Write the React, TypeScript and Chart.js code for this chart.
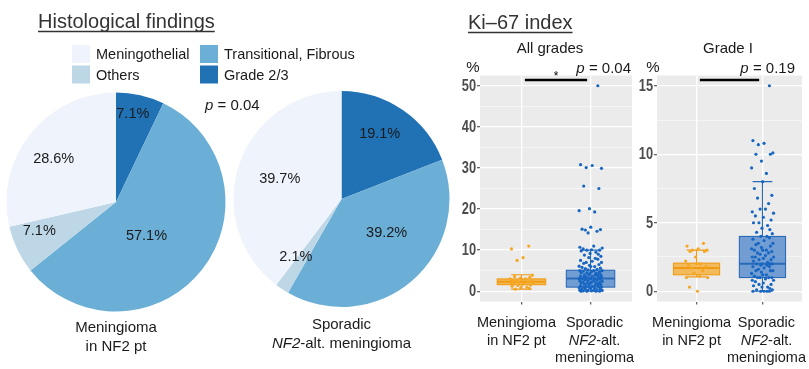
import React, { useEffect, useRef } from 'react';
import { Chart, registerables } from 'chart.js';
Chart.register(...registerables);

// ---------------- data ----------------
// pie slices, clockwise from 12 o'clock
const HISTO_CATEGORIES = ['Grade 2/3', 'Transitional, Fibrous', 'Others', 'Meningothelial'];
const HISTO_NF2 = [7.1, 57.1, 7.1, 28.6];
const HISTO_SPORADIC = [19.1, 39.2, 2.1, 39.7];
const HISTO_COLORS = ['#2171B5', '#6BAED6', '#BDD7E7', '#EEF3FC'];
const LEGEND_ORDER = ['Meningothelial', 'Transitional, Fibrous', 'Others', 'Grade 2/3'];
const HISTO_TITLE = 'Histological findings';
const HISTO_P = '_p_ = 0.04';
const PIE_CAPTIONS = [['Meningioma', 'in NF2 pt'], ['Sporadic', '_NF2_-alt. meningioma']];

const KI_TITLE = 'Ki\u201367 index';
const GROUP_LABELS = [['Meningioma', 'in NF2 pt'], ['Sporadic', '_NF2_-alt.', 'meningioma']];
const GROUP_X = [1, 2];

// All grades
const ALL_NF2 = [11, 10.3, 8.2, 7.5, 3.9, 3.6, 3.4, 3.2, 3.0, 3.0, 2.8, 2.6, 2.5, 2.4, 2.3, 2.2, 2.0, 2.0, 1.9, 1.8, 1.6, 1.5, 1.4, 1.2, 1.0, 0.9, 0.7, 0.5];
const ALL_SPORADIC = [50, 30.8, 30.6, 30.1, 29.9, 25.6, 25.0, 20.1, 19.6, 19.3, 15.6, 15.1, 15.0, 14.9, 14.6, 14.2, 11.0, 10.7, 10.5, 10.3, 10.1, 10.0, 10.0, 9.8, 9.5, 9.2, 9.0, 8.8, 8.5, 8.2, 8.0, 7.8, 7.5, 7.3, 7.0, 7.0, 6.8, 6.5, 6.3, 6.1, 6.0, 6.0, 5.8, 5.6, 5.5, 5.3, 5.2, 5.0, 5.0, 5.0, 4.9, 4.8, 4.7, 4.5, 4.5, 4.4, 4.3, 4.2, 4.0, 4.0, 4.0, 3.9, 3.8, 3.7, 3.6, 3.5, 3.5, 3.4, 3.3, 3.2, 3.1, 3.0, 3.0, 3.0, 2.9, 2.8, 2.7, 2.6, 2.5, 2.5, 2.4, 2.3, 2.2, 2.1, 2.0, 2.0, 2.0, 1.9, 1.8, 1.7, 1.6, 1.5, 1.5, 1.4, 1.3, 1.2, 1.1, 1.0, 1.0, 1.0, 0.9, 0.8, 0.8, 0.7, 0.6, 0.5, 0.5, 0.4, 0.3, 0.3, 0.2, 0.2, 0.1, 0.1, 0.0, 0.0, 0.0, 0.0];
// [lower whisker, Q1, median, Q3, upper whisker]
const ALL_BOX_NF2 = [0.5, 1.6, 2.3, 3.0, 4.0];
const ALL_BOX_SPORADIC = [0, 1.0, 3.1, 5.1, 10.0];
const ALL_Y_TICKS = [0, 10, 20, 30, 40, 50];
const ALL_Y_RANGE = [-2.5, 52.5];
const ALL_SIG_Y = 51.4;
const ALL_P = '_p_ = 0.04';
const ALL_TITLE = 'All grades';
const ALL_STAR = '*';

// Grade I
const G1_NF2 = [3.5, 3.3, 3.1, 3.0, 3.0, 2.9, 2.9, 2.5, 2.2, 2.0, 2.0, 1.9, 1.8, 1.7, 1.5, 1.3, 1.1, 1.0, 1.0, 0.3, 0.0];
const G1_SPORADIC = [15, 11.0, 10.8, 10.7, 10.1, 10.0, 10.0, 9.5, 9.0, 8.6, 8.0, 7.5, 7.0, 6.8, 6.4, 6.0, 6.0, 5.8, 5.7, 5.5, 5.4, 5.2, 5.0, 5.0, 4.8, 4.6, 4.5, 4.3, 4.2, 4.0, 4.0, 3.9, 3.8, 3.7, 3.5, 3.5, 3.4, 3.3, 3.2, 3.1, 3.0, 3.0, 3.0, 2.9, 2.8, 2.8, 2.7, 2.6, 2.5, 2.5, 2.5, 2.4, 2.3, 2.3, 2.2, 2.1, 2.0, 2.0, 2.0, 2.0, 1.9, 1.9, 1.8, 1.8, 1.7, 1.6, 1.5, 1.5, 1.5, 1.4, 1.3, 1.2, 1.2, 1.1, 1.0, 1.0, 1.0, 1.0, 0.9, 0.8, 0.8, 0.7, 0.6, 0.5, 0.5, 0.4, 0.3, 0.3, 0.2, 0.1, 0.1, 0.0, 0.0, 0.0, 0.0, 0.0];
const G1_BOX_NF2 = [1.05, 1.2, 1.7, 2.05, 3.0];
const G1_BOX_SPORADIC = [0, 1.0, 2.0, 4.0, 8.0];
const G1_Y_TICKS = [0, 5, 10, 15];
const G1_Y_RANGE = [-0.75, 15.75];
const G1_SIG_Y = 15.42;
const G1_P = '_p_ = 0.19';
const G1_TITLE = 'Grade I';

// horizontal jitter pattern (fraction of jitter width)
const JITTER = [0.62, -0.85, 0.14, -0.37, 0.93, -0.58, 0.71, -0.09, -0.97, 0.35, 0.02, -0.72, 0.84, -0.44, 0.55, -0.21, 0.27, -0.91, 0.99, -0.63, 0.08, 0.77, -0.31, -0.8, 0.46, -0.04, 0.66, -0.52, 0.88, -0.15, 0.4];

// ---------------- styles ----------------
const FONT = '"Liberation Sans", Arial, Helvetica, sans-serif';
const TXT = '#1a1a1a';
const PANEL_BG = '#EBEBEB';
const GROUP_POINT = ['#F5A623', '#1766C2'];
const GROUP_FILL = ['rgba(245,166,35,0.72)', 'rgba(40,110,195,0.62)'];
const GROUP_STROKE = ['#F09A12', '#2A6BB8'];
const GROUP_LABEL_SHIFT = [-5, 4];
const BOX_W = 0.7;
const CAP_W = 0.3;
const JIT_W = 0.17;

function drawRich(ctx: CanvasRenderingContext2D, s: string, x: number, y: number, size: number, align: 'left' | 'center' | 'right', color = TXT) {
  const parts = s.split('_');
  const fonts = parts.map((_, i) => `${i % 2 ? 'italic ' : ''}${size}px ${FONT}`);
  let total = 0;
  const widths = parts.map((p, i) => { ctx.font = fonts[i]; const w = ctx.measureText(p).width; total += w; return w; });
  let cx = align === 'left' ? x : align === 'center' ? x - total / 2 : x - total;
  ctx.save();
  ctx.fillStyle = color;
  ctx.textBaseline = 'middle';
  ctx.textAlign = 'left';
  parts.forEach((p, i) => { ctx.font = fonts[i]; ctx.fillText(p, cx, y); cx += widths[i]; });
  ctx.restore();
  return total;
}

function drawTitle(ctx: CanvasRenderingContext2D, s: string, x: number, baseline: number) {
  ctx.save();
  ctx.font = `20px ${FONT}`;
  ctx.fillStyle = '#333';
  ctx.textBaseline = 'alphabetic';
  ctx.fillText(s, x, baseline);
  const w = ctx.measureText(s).width;
  ctx.strokeStyle = '#333';
  ctx.lineWidth = 1.5;
  ctx.beginPath();
  ctx.moveTo(x, baseline + 4);
  ctx.lineTo(x + w, baseline + 4);
  ctx.stroke();
  ctx.restore();
}

// ---------------- pie ----------------
function piePlugin(values: number[], fracs: number[], offs: number[], caption: string[], capX: number, capY: number, extras: boolean) {
  return {
    id: 'pieDecor',
    afterDatasetsDraw(chart: any) {
      const ctx: CanvasRenderingContext2D = chart.ctx;
      const meta = chart.getDatasetMeta(0);
      meta.data.forEach((arc: any, i: number) => {
        const p = arc.getProps(['x', 'y', 'startAngle', 'endAngle', 'outerRadius'], true);
        const a = (p.startAngle + p.endAngle) / 2 + (offs[i] * Math.PI) / 180;
        const r = p.outerRadius * fracs[i];
        drawRich(ctx, `${values[i].toFixed(1)}%`, p.x + Math.cos(a) * r, p.y + Math.sin(a) * r, 14.5, 'center');
      });
      caption.forEach((c, i) => drawRich(ctx, c, capX, capY + i * 18.5, 15, 'center'));
      if (extras) {
        drawTitle(ctx, HISTO_TITLE, 38, 27.5);
        LEGEND_ORDER.forEach((name, i) => {
          const col = i % 2, row = Math.floor(i / 2);
          const x = col ? 200 : 72, y = row ? 65.5 : 45;
          ctx.fillStyle = HISTO_COLORS[HISTO_CATEGORIES.indexOf(name)];
          ctx.fillRect(x, y, 18, 18);
          drawRich(ctx, name, x + 24, y + 10, 14.5, 'left');
        });
        drawRich(ctx, HISTO_P, 205, 106, 15, 'left');
      }
    },
  };
}

function pieConfig(values: number[], radius: number, pad: any, plugin: any) {
  return {
    type: 'pie',
    data: { labels: HISTO_CATEGORIES, datasets: [{ data: values, backgroundColor: HISTO_COLORS, borderWidth: 0 }] },
    options: {
      animation: false, responsive: false, radius,
      layout: { padding: pad },
      plugins: { legend: { display: false }, tooltip: { enabled: false } },
    },
    plugins: [plugin],
  };
}

// ---------------- box panels ----------------
type Panel = {
  left: number; width: number; yAxisW: number; rightPad: number;
  nf2: number[]; spor: number[]; boxes: number[][]; ticks: number[]; range: number[];
  sigY: number; p: string; title: string; titleX: number; pctX: number; pRight: number; star?: string; kiTitle?: boolean;
};

function boxPlugin(s: Panel) {
  return {
    id: 'boxDecor',
    beforeDraw(chart: any) {
      const { ctx, chartArea: a } = chart;
      ctx.save();
      ctx.fillStyle = PANEL_BG;
      ctx.fillRect(a.left, a.top, a.right - a.left, a.bottom - a.top);
      ctx.restore();
    },
    beforeDatasetsDraw(chart: any) {
      const ctx: CanvasRenderingContext2D = chart.ctx;
      const { x, y } = chart.scales;
      ctx.save();
      s.boxes.forEach((b, i) => {
        const [lo, q1, med, q3, hi] = b;
        const cx = GROUP_X[i];
        const xc = x.getPixelForValue(cx);
        const xl = x.getPixelForValue(cx - BOX_W / 2), xr = x.getPixelForValue(cx + BOX_W / 2);
        const cl = x.getPixelForValue(cx - CAP_W / 2), cr = x.getPixelForValue(cx + CAP_W / 2);
        ctx.strokeStyle = GROUP_STROKE[i];
        ctx.lineWidth = 1.1;
        ctx.beginPath();
        ctx.moveTo(xc, y.getPixelForValue(hi)); ctx.lineTo(xc, y.getPixelForValue(q3));
        ctx.moveTo(xc, y.getPixelForValue(q1)); ctx.lineTo(xc, y.getPixelForValue(lo));
        ctx.moveTo(cl, y.getPixelForValue(hi)); ctx.lineTo(cr, y.getPixelForValue(hi));
        ctx.moveTo(cl, y.getPixelForValue(lo)); ctx.lineTo(cr, y.getPixelForValue(lo));
        ctx.stroke();
        const yt = y.getPixelForValue(q3), yb = y.getPixelForValue(q1);
        ctx.fillStyle = GROUP_FILL[i];
        ctx.fillRect(xl, yt, xr - xl, yb - yt);
        ctx.strokeRect(xl, yt, xr - xl, yb - yt);
        ctx.lineWidth = 2;
        ctx.beginPath();
        ctx.moveTo(xl, y.getPixelForValue(med)); ctx.lineTo(xr, y.getPixelForValue(med));
        ctx.stroke();
      });
      ctx.restore();
    },
    afterDraw(chart: any) {
      const ctx: CanvasRenderingContext2D = chart.ctx;
      const { x, y } = chart.scales;
      const L = s.left;
      // y tick labels (condensed bold)
      ctx.save();
      ctx.font = `bold 16px ${FONT}`;
      ctx.fillStyle = '#4d4d4d';
      ctx.textAlign = 'right';
      ctx.textBaseline = 'middle';
      s.ticks.forEach((t) => {
        ctx.save();
        ctx.translate(chart.chartArea.left - 4, y.getPixelForValue(t) + 0.5);
        ctx.scale(0.8, 1);
        ctx.fillText(String(t), 0, 0);
        ctx.restore();
      });
      ctx.restore();
      // significance bar
      const yb = y.getPixelForValue(s.sigY);
      ctx.save();
      ctx.strokeStyle = '#000';
      ctx.lineWidth = 2.5;
      ctx.beginPath();
      ctx.moveTo(x.getPixelForValue(1.05), yb);
      ctx.lineTo(x.getPixelForValue(1.95), yb);
      ctx.stroke();
      ctx.restore();
      if (s.star) drawRich(ctx, s.star, x.getPixelForValue(1.5), yb - 3, 12, 'center', '#000');
      drawRich(ctx, s.title, s.titleX - L, 49, 15, 'center');
      drawRich(ctx, '%', s.pctX - L, 68, 15, 'center');
      drawRich(ctx, s.p, s.pRight - L, 69, 15, 'right');
      if (s.kiTitle) drawTitle(ctx, KI_TITLE, 468 - L, 28.5);
      GROUP_LABELS.forEach((lines, i) => {
        const xc = x.getPixelForValue(GROUP_X[i]) + GROUP_LABEL_SHIFT[i];
        lines.forEach((ln, j) => drawRich(ctx, ln, xc, 323 + j * 17.5, 14.5, 'center'));
      });
    },
  };
}

function boxConfig(s: Panel) {
  const step = s.ticks[1] - s.ticks[0];
  const allTicks: number[] = [];
  s.ticks.forEach((t) => { allTicks.push(t); if (t + step / 2 <= s.range[1]) allTicks.push(t + step / 2); });
  const isMajor = (v: number) => s.ticks.includes(v);
  const pts = (vals: number[], g: number) =>
    vals.map((v, i) => ({ x: GROUP_X[g] + JITTER[i % JITTER.length] * JIT_W, y: v }));
  return {
    type: 'scatter',
    data: {
      datasets: [
        { data: pts(s.nf2, 0), backgroundColor: GROUP_POINT[0], borderWidth: 0, pointRadius: 1.6 },
        { data: pts(s.spor, 1), backgroundColor: GROUP_POINT[1], borderWidth: 0, pointRadius: 1.6 },
      ],
    },
    options: {
      animation: false, responsive: false,
      layout: { padding: { top: 75.5, right: s.rightPad, left: 0, bottom: 0 } },
      plugins: { legend: { display: false }, tooltip: { enabled: false } },
      scales: {
        x: {
          type: 'linear', min: 0.4, max: 2.6,
          afterBuildTicks: (sc: any) => { sc.ticks = GROUP_X.map((v) => ({ value: v })); },
          afterFit: (sc: any) => { sc.height = 369 - 301.5; },
          border: { display: false },
          grid: { color: '#ffffff', lineWidth: 1.3, tickColor: '#666', tickLength: 3 },
          ticks: { display: false },
        },
        y: {
          min: s.range[0], max: s.range[1],
          afterBuildTicks: (sc: any) => { sc.ticks = allTicks.map((v) => ({ value: v })); },
          afterFit: (sc: any) => { sc.width = s.yAxisW; },
          border: { display: false },
          grid: {
            color: (c: any) => (isMajor(c.tick.value) ? '#ffffff' : 'rgba(255,255,255,0.85)'),
            lineWidth: (c: any) => (isMajor(c.tick.value) ? 1.3 : 0.6),
            tickColor: (c: any) => (isMajor(c.tick.value) ? '#666' : 'rgba(0,0,0,0)'),
            tickLength: 3,
          },
          ticks: { display: false },
        },
      },
    },
    plugins: [boxPlugin(s)],
  };
}

const PANEL_ALL: Panel = {
  left: 440, width: 196, yAxisW: 40, rightPad: 0,
  nf2: ALL_NF2, spor: ALL_SPORADIC, boxes: [ALL_BOX_NF2, ALL_BOX_SPORADIC], ticks: ALL_Y_TICKS, range: ALL_Y_RANGE,
  sigY: ALL_SIG_Y, p: ALL_P, title: ALL_TITLE, titleX: 550, pctX: 473, pRight: 631, star: ALL_STAR, kiTitle: true,
};
const PANEL_G1: Panel = {
  left: 620, width: 189, yAxisW: 37, rightPad: 7,
  nf2: G1_NF2, spor: G1_SPORADIC, boxes: [G1_BOX_NF2, G1_BOX_SPORADIC], ticks: G1_Y_TICKS, range: G1_Y_RANGE,
  sigY: G1_SIG_Y, p: G1_P, title: G1_TITLE, titleX: 728, pctX: 653, pRight: 795,
};

function ChartCanvas({ make, left, top, width, height }: any) {
  const ref = useRef<HTMLCanvasElement>(null);
  useEffect(() => {
    const chart = new Chart(ref.current as HTMLCanvasElement, make());
    return () => chart.destroy();
  }, []);
  return <canvas ref={ref} width={width} height={height} style={{ position: 'absolute', left, top, width, height }} />;
}

export default function App() {
  return (
    <div style={{ position: 'absolute', left: 0, top: 0, width: 809, height: 369, background: '#fff', overflow: 'hidden' }}>
      <ChartCanvas left={0} top={0} width={460} height={369}
        make={() => pieConfig(HISTO_NF2, 109.5, { left: 0, right: 228, top: 93, bottom: 58 },
          piePlugin(HISTO_NF2, [0.82, 0.42, 0.75, 0.69], [-2, 10, 5, -4], PIE_CAPTIONS[0], 116, 328, true))} />
      <ChartCanvas left={0} top={0} width={460} height={369}
        make={() => pieConfig(HISTO_SPORADIC, 108, { left: 232, right: 9, top: 91, bottom: 62 },
          piePlugin(HISTO_SPORADIC, [0.7, 0.525, 0.68, 0.6], [-4, -12, 5, -1], PIE_CAPTIONS[1], 341.5, 325, false))} />
      <ChartCanvas left={PANEL_ALL.left} top={0} width={PANEL_ALL.width} height={369} make={() => boxConfig(PANEL_ALL)} />
      <ChartCanvas left={PANEL_G1.left} top={0} width={PANEL_G1.width} height={369} make={() => boxConfig(PANEL_G1)} />
    </div>
  );
}
